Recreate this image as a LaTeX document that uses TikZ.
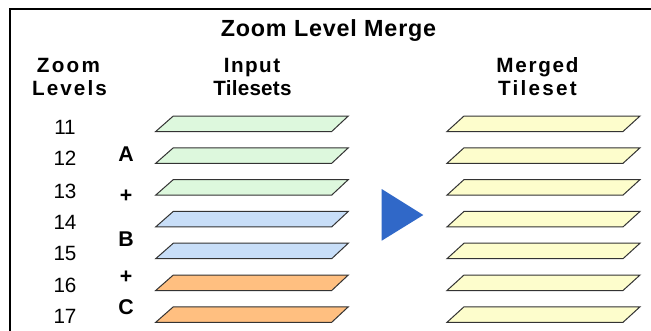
\documentclass[tikz,border=0pt]{standalone}
\usepackage{fontspec}
\setmainfont{Liberation Sans}
\definecolor{pgreen}{HTML}{DDF8DD}
\definecolor{pblue}{HTML}{C8DEF8}
\definecolor{porange}{HTML}{FFBF80}
\definecolor{pyellow}{HTML}{FDFDCC}
\definecolor{tblue}{HTML}{3068C8}
\tikzset{
  ttl/.style={font=\fontsize{17.5}{20}\selectfont\bfseries\addfontfeature{LetterSpace=3.5}, anchor=base, inner sep=0pt},
  hdr/.style={font=\fontsize{15.5}{18}\selectfont\bfseries, anchor=base, inner sep=0pt},
  num/.style={font=\fontsize{15.5}{18}\selectfont, anchor=base, inner sep=0pt},
  ltr/.style={font=\fontsize{16}{19}\selectfont\bfseries, anchor=base, inner sep=0pt},
  plane/.style={draw=black!80, line width=0.75pt, line join=miter},
  frameline/.style={draw=black, line width=1.1pt}
}
\begin{document}
\begin{tikzpicture}[x=0.75pt, y=-0.75pt]
\useasboundingbox (0,0) rectangle (651,330);
\fill[white] (0,0) rectangle (651,330);
% frame
\draw[frameline] (10,331) -- (10,9) -- (652,9);
% title and headers
\node[ttl] (title) at (328.5,36.5) {Zoom Level Merge};
\node[hdr] (hz) at (68.5,72.5) {\addfontfeature{LetterSpace=11}Zoom};
\node[hdr] (hl) at (69.5,95) {\addfontfeature{LetterSpace=10}Levels};
\node[hdr] (hi) at (252,72.5) {\addfontfeature{LetterSpace=7}Input};
\node[hdr] (ht) at (252.5,95) {\addfontfeature{LetterSpace=1}Tilesets};
\node[hdr] (hm) at (537.5,72.5) {\addfontfeature{LetterSpace=8.5}Merged};
\node[hdr] (hs) at (537.5,95) {\addfontfeature{LetterSpace=11}Tileset};
% zoom level numbers
\foreach \n/\yb in {11/134,12/165.7,13/198.2,14/229.3,15/260.8,16/292.7,17/323.3}
  \node[num] (z\n) at (65,\yb) {\n};
% tileset letters
\node[ltr] (la) at (126,161.7) {A};
\node[ltr] (p1) at (126,202.5) {+};
\node[ltr] (lb) at (126,246.6) {B};
\node[ltr] (p2) at (126,283.3) {+};
\node[ltr] (lc) at (126,314) {C};
% input and merged planes
\foreach \i/\c in {0/pgreen,1/pgreen,2/pgreen,3/pblue,4/pblue,5/porange,6/porange}{
  \pgfmathsetmacro{\t}{116+31.8*\i}
  \pgfmathsetmacro{\b}{\t+15.5}
  \filldraw[plane, fill=\c] (173.3,\t) -- (348.3,\t) -- (331.7,\b) -- (155.7,\b) -- cycle;
  \filldraw[plane, fill=pyellow] (464,\t) -- (640,\t) -- (623,\b) -- (447,\b) -- cycle;
}
% merge arrow
\fill[tblue] (381.7,189) -- (423.3,215) -- (381.7,240.7) -- cycle;
\end{tikzpicture}
\end{document}
